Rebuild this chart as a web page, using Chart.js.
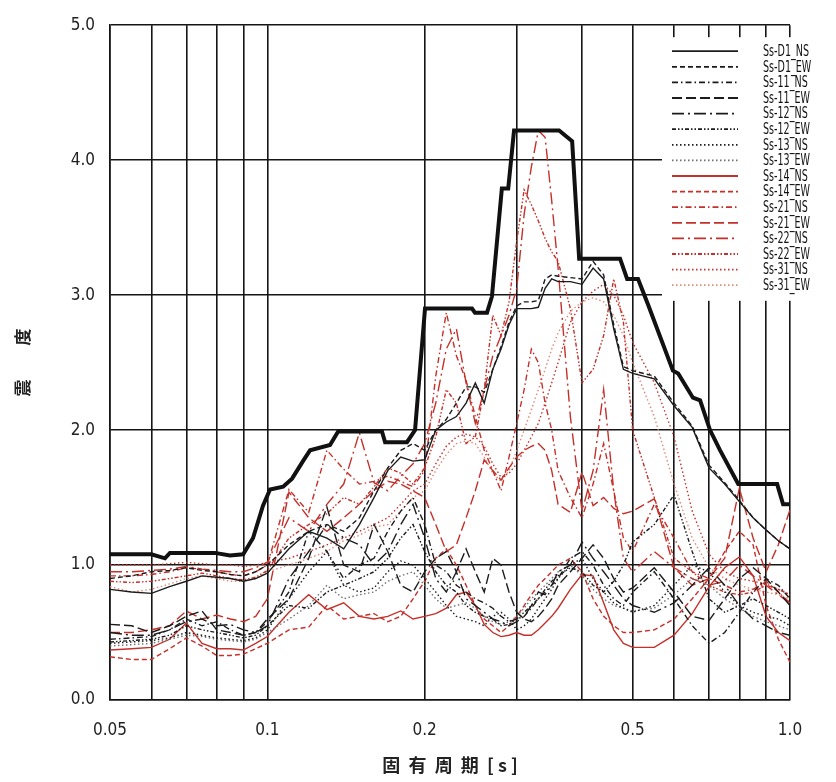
<!DOCTYPE html>
<html>
<head>
<meta charset="utf-8">
<script src="https://cdn.jsdelivr.net/npm/chart.js@4.4.1/dist/chart.umd.min.js"></script>
<style>
  html, body { margin: 0; padding: 0; background: #fff; }
  #wrap { width: 836px; height: 782px; }
</style>
</head>
<body>
<div id="wrap"><canvas id="spectrum" width="836" height="782"></canvas></div>
<script>
// periods (s) shared by all the observed spectra
const periods = [0.05,0.055,0.06,0.065,0.07,0.075,0.08,0.085,0.09,0.095,0.1,
  0.11,0.12,0.13,0.14,0.15,0.16,0.17,0.18,0.19,0.2,
  0.21,0.22,0.23,0.24,0.25,0.26,0.27,0.28,0.29,0.3,
  0.31,0.32,0.33,0.34,0.35,0.36,0.38,0.4,0.42,0.44,0.46,0.48,0.5,
  0.55,0.6,0.65,0.7,0.75,0.8,0.85,0.9,0.95,1.0];

// envelope (thick line) has its own break points
const envPeriods = [0.05,0.06,0.0637,0.0651,0.0794,0.0848,0.0899,0.0939,0.0981,0.1012,0.1072,0.1115,0.117,0.1207,0.1318,0.1366,0.1657,0.168,0.185,0.1917,0.2003,0.2464,0.2496,0.2632,0.269,0.281,0.289,0.2965,0.3616,0.383,0.395,0.473,0.488,0.512,0.535,0.597,0.611,0.652,0.673,0.703,0.735,0.796,0.945,0.97,1.0];
const envValues = [1.08,1.08,1.05,1.09,1.09,1.07,1.08,1.2,1.44,1.56,1.58,1.64,1.77,1.85,1.89,1.99,1.99,1.91,1.91,2.0,2.9,2.9,2.87,2.87,2.99,3.79,3.79,4.22,4.22,4.14,3.27,3.27,3.12,3.12,2.93,2.44,2.42,2.24,2.22,2.0,1.85,1.6,1.6,1.45,1.45];

const ssD1NS = [0.82,0.80,0.79,0.84,0.88,0.92,0.91,0.90,0.88,0.90,0.94,
  1.12,1.25,1.20,1.12,1.30,1.50,1.70,1.80,1.77,1.78,
  2.00,2.06,2.10,2.20,2.35,2.20,2.45,2.60,2.78,2.90,
  2.90,2.90,2.91,3.05,3.12,3.10,3.10,3.08,3.20,3.12,2.75,2.45,2.42,
  2.38,2.18,2.02,1.72,1.60,1.47,1.35,1.26,1.18,1.12];
const ssD1EW = [0.90,0.92,0.95,0.96,0.98,0.96,0.95,0.93,0.92,0.95,1.00,
  1.15,1.25,1.30,1.25,1.35,1.55,1.72,1.85,1.90,1.85,
  2.00,2.08,2.20,2.32,2.32,2.28,2.45,2.62,2.80,2.92,
  2.95,2.95,2.96,3.12,3.15,3.14,3.13,3.12,3.25,3.15,2.78,2.47,2.44,
  2.40,2.20,2.03,1.74,1.61,1.48,1.35,1.26,1.18,1.12];
const ss11NS = [0.45,0.46,0.47,0.52,0.60,0.55,0.58,0.52,0.48,0.50,0.58,
  0.80,1.25,1.10,0.90,1.00,1.05,1.25,1.40,1.50,1.30,
  1.00,0.95,0.85,0.80,0.75,0.72,0.68,0.62,0.58,0.60,
  0.62,0.68,0.75,0.80,0.85,0.90,1.05,1.10,1.00,0.85,0.75,0.70,0.80,
  0.95,0.75,0.55,0.42,0.50,0.65,0.80,0.90,0.85,0.75];
const ss11EW = [0.56,0.55,0.50,0.55,0.62,0.66,0.52,0.50,0.48,0.50,0.60,
  0.75,1.05,1.43,1.00,0.95,1.30,1.10,0.85,0.80,0.95,
  1.05,1.10,0.95,1.12,0.95,0.80,1.05,1.00,0.80,0.65,
  0.60,0.58,0.62,0.68,0.75,0.85,0.95,1.05,1.15,1.05,0.90,0.80,0.83,
  0.98,0.80,0.62,0.59,0.75,0.90,0.98,0.90,0.80,0.70];
const ss12NS = [0.50,0.48,0.48,0.52,0.58,0.60,0.55,0.56,0.52,0.50,0.55,
  0.90,1.10,1.30,1.20,1.15,1.00,1.10,1.30,1.45,1.20,
  0.90,0.80,0.95,0.75,0.70,0.65,0.60,0.58,0.55,0.58,
  0.62,0.70,0.80,0.78,0.85,0.95,1.00,1.17,1.05,0.95,0.85,0.75,0.70,
  0.65,0.72,0.85,0.98,0.85,0.70,0.60,0.55,0.50,0.48];
const ss12EW = [0.43,0.44,0.45,0.48,0.55,0.52,0.50,0.48,0.46,0.48,0.55,
  0.70,0.68,0.80,0.85,0.90,0.95,1.05,1.20,1.30,1.10,
  0.95,0.85,0.80,0.70,0.65,0.62,0.60,0.55,0.56,0.60,
  0.65,0.70,0.75,0.82,0.88,0.92,0.98,0.95,0.85,0.80,0.88,1.00,1.17,
  1.30,1.52,1.10,0.75,0.65,0.70,0.75,0.70,0.65,0.60];
const ss13NS = [0.42,0.43,0.44,0.46,0.50,0.48,0.46,0.45,0.44,0.46,0.52,
  0.75,0.95,1.10,0.85,0.80,0.83,0.95,1.03,1.00,0.90,
  0.80,0.70,0.62,0.60,0.58,0.55,0.62,0.65,0.60,0.52,
  0.55,0.60,0.68,0.75,0.82,0.90,1.00,1.05,0.90,0.80,0.72,0.68,0.65,
  0.70,0.85,1.00,0.95,0.80,0.70,0.65,0.62,0.60,0.55];
const ss13EW = [0.40,0.41,0.42,0.45,0.48,0.47,0.45,0.44,0.43,0.45,0.50,
  0.60,0.70,0.85,0.75,0.78,0.80,0.88,0.92,0.95,0.85,
  0.75,0.68,0.70,0.72,0.68,0.62,0.58,0.56,0.58,0.62,
  0.68,0.75,0.80,0.85,0.90,0.95,1.00,0.92,0.82,0.75,0.70,0.68,0.66,
  0.68,0.78,0.90,0.85,0.75,0.68,0.62,0.58,0.55,0.52];
const ss14NS = [0.37,0.38,0.39,0.45,0.57,0.42,0.38,0.38,0.37,0.42,0.47,
  0.65,0.78,0.67,0.72,0.62,0.60,0.62,0.66,0.60,0.62,
  0.64,0.68,0.78,0.80,0.70,0.56,0.50,0.47,0.48,0.50,
  0.48,0.48,0.52,0.57,0.62,0.68,0.82,0.93,0.92,0.72,0.52,0.42,0.39,
  0.39,0.48,0.64,0.84,0.98,1.06,0.92,0.62,0.50,0.44];
const ss14EW = [0.32,0.30,0.30,0.38,0.46,0.40,0.33,0.33,0.34,0.38,0.42,
  0.52,0.54,0.70,0.60,0.62,0.64,0.58,0.62,0.75,0.88,
  1.05,1.12,1.00,0.85,0.70,0.60,0.55,0.50,0.55,0.62,
  0.70,0.78,0.85,0.90,0.95,1.00,1.05,0.95,0.75,0.62,0.55,0.50,0.50,
  0.52,0.60,0.75,0.90,1.10,1.25,1.15,0.70,0.45,0.28];
const ss21NS = [0.92,0.92,0.93,0.95,0.98,0.97,0.95,0.93,0.92,0.95,1.00,
  1.56,1.39,1.85,1.71,1.60,1.62,1.66,1.62,1.58,1.70,
  2.40,2.87,2.55,2.37,2.10,1.85,1.70,1.55,1.80,2.05,
  2.30,2.60,2.50,2.20,2.00,1.70,1.50,1.35,1.60,1.90,1.55,1.20,1.10,
  1.45,1.20,0.95,0.90,0.85,0.80,0.82,0.88,0.80,0.72];
const ss21EW = [0.50,0.50,0.52,0.55,0.66,0.60,0.63,0.60,0.58,0.62,0.75,
  1.54,1.35,1.25,1.35,1.45,1.55,1.62,1.60,1.55,1.50,
  1.30,1.10,1.15,1.35,1.55,1.78,1.70,1.63,1.72,1.80,
  1.85,1.88,1.90,1.85,1.70,1.45,1.39,1.69,1.44,1.50,1.42,1.38,1.40,
  1.49,0.98,0.85,0.90,1.05,1.57,1.20,0.95,1.15,1.41];
const ss22NS = [0.95,0.95,0.96,0.97,0.99,0.97,0.96,0.95,0.95,0.98,1.02,
  1.35,1.25,1.45,1.60,1.98,1.61,1.55,1.66,1.75,1.90,
  2.20,2.60,2.75,2.35,2.05,2.30,2.55,2.70,2.85,3.05,
  3.60,3.95,4.22,4.17,3.70,3.20,2.10,1.40,1.70,2.30,1.55,1.05,0.95,
  1.10,0.98,0.90,0.85,0.88,1.00,0.92,0.85,0.78,0.72];
const ss22EW = [0.88,0.87,0.88,0.90,0.92,0.94,0.92,0.90,0.89,0.91,0.96,
  1.20,1.30,1.38,1.50,1.45,1.58,1.72,1.68,1.60,1.72,
  1.95,2.30,2.20,1.90,1.95,2.30,2.85,2.70,2.95,3.40,
  3.78,3.67,3.55,3.42,3.32,3.25,2.90,2.35,2.45,2.70,3.12,2.80,2.00,
  1.50,1.05,0.95,0.85,0.80,0.78,0.80,0.85,0.82,0.78];
const ss31NS = [1.00,1.00,1.00,1.01,1.02,1.01,1.00,1.00,0.99,1.00,1.02,
  1.05,1.10,1.15,1.20,1.25,1.30,1.35,1.45,1.55,1.60,
  1.75,1.88,1.95,1.97,1.95,1.88,1.75,1.65,1.68,1.75,
  1.85,1.95,2.05,2.20,2.35,2.50,2.80,2.95,3.03,3.08,3.00,2.85,2.65,
  2.35,1.95,1.40,1.08,0.95,0.90,0.88,0.86,0.82,0.78];
const ss31EW = [0.84,0.80,0.82,0.86,0.90,0.92,0.90,0.88,0.88,0.90,0.95,
  1.00,1.05,1.10,1.18,1.22,1.28,1.30,1.40,1.50,1.55,
  1.70,1.82,1.90,1.92,1.90,1.80,1.68,1.62,1.70,1.85,
  2.00,2.15,2.30,2.45,2.60,2.72,2.88,2.95,2.98,2.95,2.85,2.70,2.50,
  2.10,1.60,1.20,0.98,0.90,0.85,0.82,0.80,0.78,0.75];

const seriesNames = ['Ss-D1_NS','Ss-D1_EW','Ss-11_NS','Ss-11_EW','Ss-12_NS','Ss-12_EW','Ss-13_NS','Ss-13_EW',
  'Ss-14_NS','Ss-14_EW','Ss-21_NS','Ss-21_EW','Ss-22_NS','Ss-22_EW','Ss-31_NS','Ss-31_EW'];
const seriesValues = [ssD1NS, ssD1EW, ss11NS, ss11EW, ss12NS, ss12EW, ss13NS, ss13EW,
  ss14NS, ss14EW, ss21NS, ss21EW, ss22NS, ss22EW, ss31NS, ss31EW];

const xTicks = [0.05,0.06,0.07,0.08,0.09,0.1,0.2,0.3,0.4,0.5,0.6,0.7,0.8,0.9,1.0];
const xTickLabels = ['0.05','','','','','0.1','0.2','','','0.5','','','','','1.0'];

// line styles: 8 black patterns, then the same 8 in red
const BLACK = '#1c1c1c', RED = '#c4302a';
const dashes = [[], [5,3], [6,3,1.5,3], [10,4], [12,4,2,4], [4,2,1.5,2,1.5,2], [1.5,2.5], [1.5,2.5]];
const colors = [BLACK,BLACK,BLACK,BLACK,BLACK,BLACK,BLACK,'#707070',
  RED,RED,RED,RED,RED,RED,RED,'#df8a78'];

const narrow = '"Liberation Sans Narrow", "DejaVu Sans Condensed", "Arial Narrow", sans-serif';
const GRID = '#151515';

const datasets = [{
  label: 'envelope',
  data: envPeriods.map((t, i) => ({x: t, y: envValues[i]})),
  borderColor: '#111',
  borderWidth: 4,
  pointRadius: 0,
  tension: 0
}];
seriesNames.forEach((name, k) => {
  datasets.push({
    label: name,
    data: periods.map((t, i) => ({x: t, y: seriesValues[k][i]})),
    borderColor: colors[k],
    borderWidth: 1.4,
    borderDash: dashes[k % 8],
    pointRadius: 0,
    tension: 0
  });
});

// legend drawn inside the plot, on a white box that hides the grid
const boxLegend = {
  id: 'boxLegend',
  afterDraw(chart) {
    const ctx = chart.ctx;
    const area = chart.chartArea;
    const left = area.right - 128, top = area.top + 12;
    const rowH = 15.6;
    ctx.save();
    ctx.fillStyle = '#fff';
    ctx.fillRect(left, top, 152, seriesNames.length * rowH + 14);
    ctx.font = '15px ' + narrow;
    const sx = 46 / ctx.measureText('Ss-D1_NS').width;
    seriesNames.forEach((name, i) => {
      const y = top + 14 + i * rowH;
      const ds = chart.data.datasets[i + 1];
      ctx.strokeStyle = ds.borderColor;
      ctx.lineWidth = 1.8;
      ctx.setLineDash(ds.borderDash);
      ctx.beginPath();
      ctx.moveTo(left + 10, y);
      ctx.lineTo(left + 76, y);
      ctx.stroke();
      ctx.setLineDash([]);
      ctx.save();
      ctx.translate(left + 101, y + 1);
      ctx.scale(sx, 1);
      ctx.fillStyle = '#111';
      ctx.textBaseline = 'middle';
      ctx.fillText(name, 0, 0);
      ctx.restore();
    });
    ctx.restore();
  }
};

new Chart(document.getElementById('spectrum'), {
  type: 'line',
  data: { datasets },
  options: {
    responsive: false,
    animation: false,
    devicePixelRatio: 1,
    layout: { padding: { top: 18, right: 46, bottom: 0, left: 0 } },
    plugins: { legend: { display: false }, tooltip: { enabled: false } },
    scales: {
      x: {
        type: 'logarithmic',
        min: 0.05,
        max: 1.0,
        afterBuildTicks: axis => { axis.ticks = xTicks.map(v => ({ value: v })); },
        afterFit: axis => { axis.height = 82; },
        ticks: {
          autoSkip: false,
          maxRotation: 0,
          padding: 20,
          color: '#222',
          font: { family: narrow, size: 17 },
          callback: (v, i) => xTickLabels[i]
        },
        grid: { color: GRID, lineWidth: 1.6, drawTicks: false },
        border: { color: GRID, width: 1.6 },
        title: {
          display: true,
          text: '固  有  周  期  [ s ]',
          color: '#222',
          font: { family: '"Noto Sans CJK JP", sans-serif', size: 18, weight: 'bold' },
          padding: { top: 0, bottom: 6 }
        }
      },
      y: {
        min: 0,
        max: 5,
        afterFit: axis => { axis.width = 110; },
        ticks: {
          stepSize: 1,
          padding: 15,
          color: '#222',
          font: { family: narrow, size: 17 },
          callback: v => v.toFixed(1)
        },
        grid: { color: GRID, lineWidth: 1.6, drawTicks: false },
        border: { color: GRID, width: 1.6 },
        title: {
          display: true,
          text: '震　　度',
          color: '#222',
          font: { family: '"Noto Sans CJK JP", sans-serif', size: 17, weight: 'bold' },
          padding: { top: 12, bottom: 0 }
        }
      }
    }
  },
  plugins: [boxLegend]
});
</script>
</body>
</html>
